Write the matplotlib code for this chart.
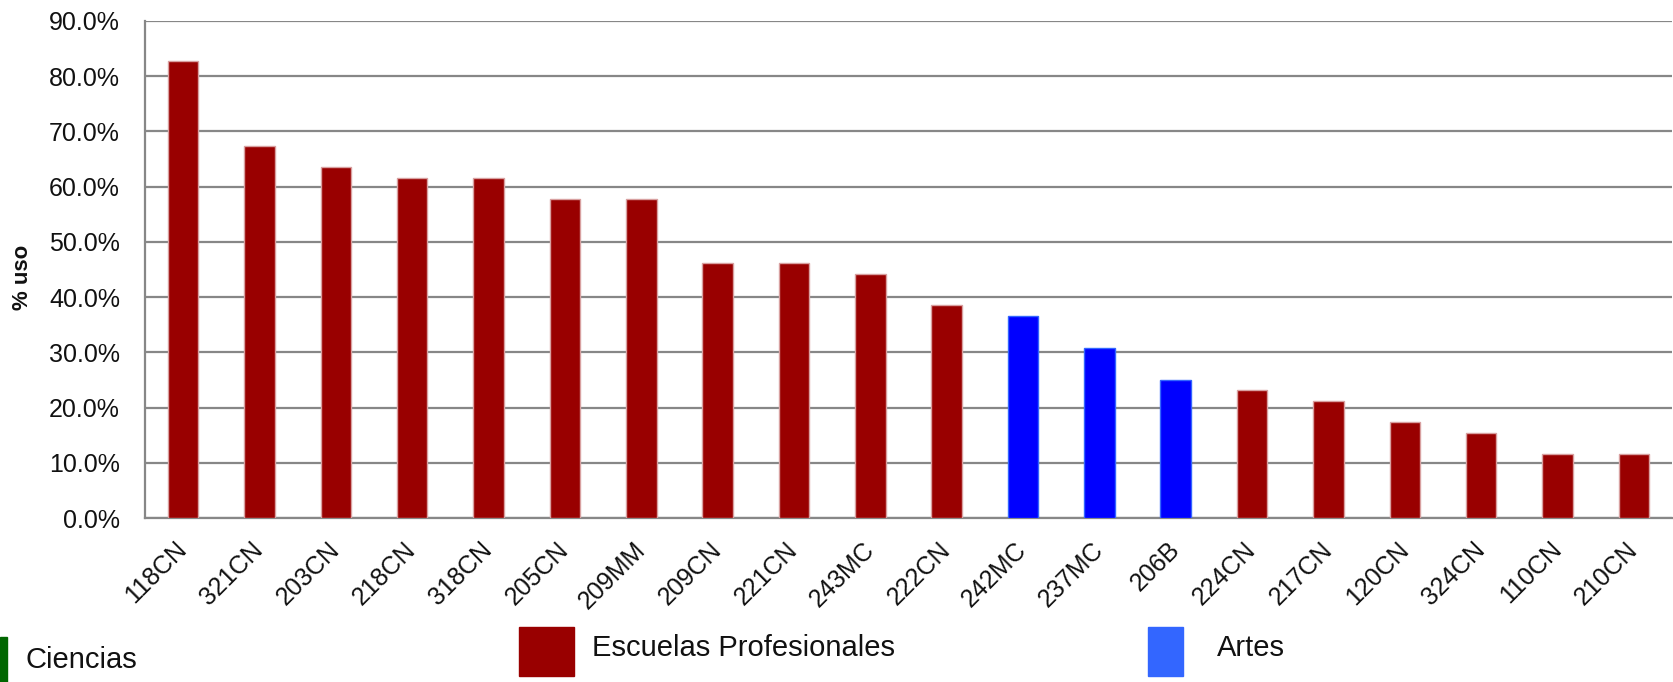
import matplotlib
matplotlib.use("Agg")
import matplotlib.pyplot as plt
from matplotlib.patches import Rectangle
from matplotlib.ticker import FuncFormatter, MultipleLocator

categories = ["118CN", "321CN", "203CN", "218CN", "318CN", "205CN", "209MM", "209CN",
              "221CN", "243MC", "222CN", "242MC", "237MC", "206B", "224CN", "217CN",
              "120CN", "324CN", "110CN", "210CN"]
values = [82.7, 67.3, 63.5, 61.5, 61.5, 57.7, 57.7, 46.2, 46.2, 44.2, 38.5, 36.5,
          30.8, 25.0, 23.1, 21.2, 17.3, 15.4, 11.5, 11.5]
groups = ["esc", "esc", "esc", "esc", "esc", "esc", "esc", "esc", "esc", "esc", "esc",
          "art", "art", "art", "esc", "esc", "esc", "esc", "esc", "esc"]
legend_labels = ["Ciencias", "Escuelas Profesionales", "Artes"]

RED = "#990000"
BLUE = "#0000FF"
fill = {"esc": RED, "art": BLUE}
edge = {"esc": "#d8a0a0", "art": "#3366FF"}

plt.rcParams['font.family'] = ['Liberation Sans', 'DejaVu Sans']

W, H = 1674, 682
fig = plt.figure(figsize=(W / 100, H / 100), dpi=100)
ax = fig.add_axes([145 / W, 1 - 518 / H, (1672 - 145) / W, (518 - 21) / H])

x = list(range(len(categories)))
ax.bar(x, values, width=0.4, color=[fill[g] for g in groups],
       edgecolor=[edge[g] for g in groups], linewidth=1.0, zorder=3)

ax.set_xlim(-0.5, len(categories) - 0.5)
ax.set_ylim(0, 90)
ax.yaxis.set_major_locator(MultipleLocator(10))
ax.yaxis.set_major_formatter(FuncFormatter(lambda v, p: f"{v:.1f}%"))
ax.grid(axis='y', color='#878787', linewidth=1.6, zorder=1)
ax.set_axisbelow(True)
for s in ["top", "right"]:
    ax.spines[s].set_visible(False)
for s in ["left", "bottom"]:
    ax.spines[s].set_color('#878787')
    ax.spines[s].set_linewidth(1.6)
ax.tick_params(axis='both', length=0, labelsize=18, colors='#111111')
ax.tick_params(axis='y', pad=18)
ax.set_xticks(x)
ax.set_xticklabels(categories, rotation=45, ha='right', rotation_mode='anchor', va='center')
ax.tick_params(axis='x', pad=20)

fig.text(23 / W, 1 - 277 / H, "% uso", rotation=90, ha='center', va='center',
         fontsize=16, fontweight='bold', color='#111111')

# legend
fig.patches.append(Rectangle((0, 0), 7 / W, (682 - 637) / H, transform=fig.transFigure,
                             color="#006600"))
fig.text(26 / W, 1 - 660 / H, legend_labels[0], ha='left', va='center', fontsize=21, color='#111111')
fig.patches.append(Rectangle((519 / W, 1 - 676 / H), 55 / W, 49 / H, transform=fig.transFigure,
                             color=RED))
fig.text(592 / W, 1 - 648 / H, legend_labels[1], ha='left', va='center', fontsize=21, color='#111111')
fig.patches.append(Rectangle((1148 / W, 1 - 676 / H), 35 / W, 49 / H, transform=fig.transFigure,
                             color="#3366FF"))
fig.text(1217 / W, 1 - 648 / H, legend_labels[2], ha='left', va='center', fontsize=21, color='#111111')

fig.savefig("out.png", dpi=100)
